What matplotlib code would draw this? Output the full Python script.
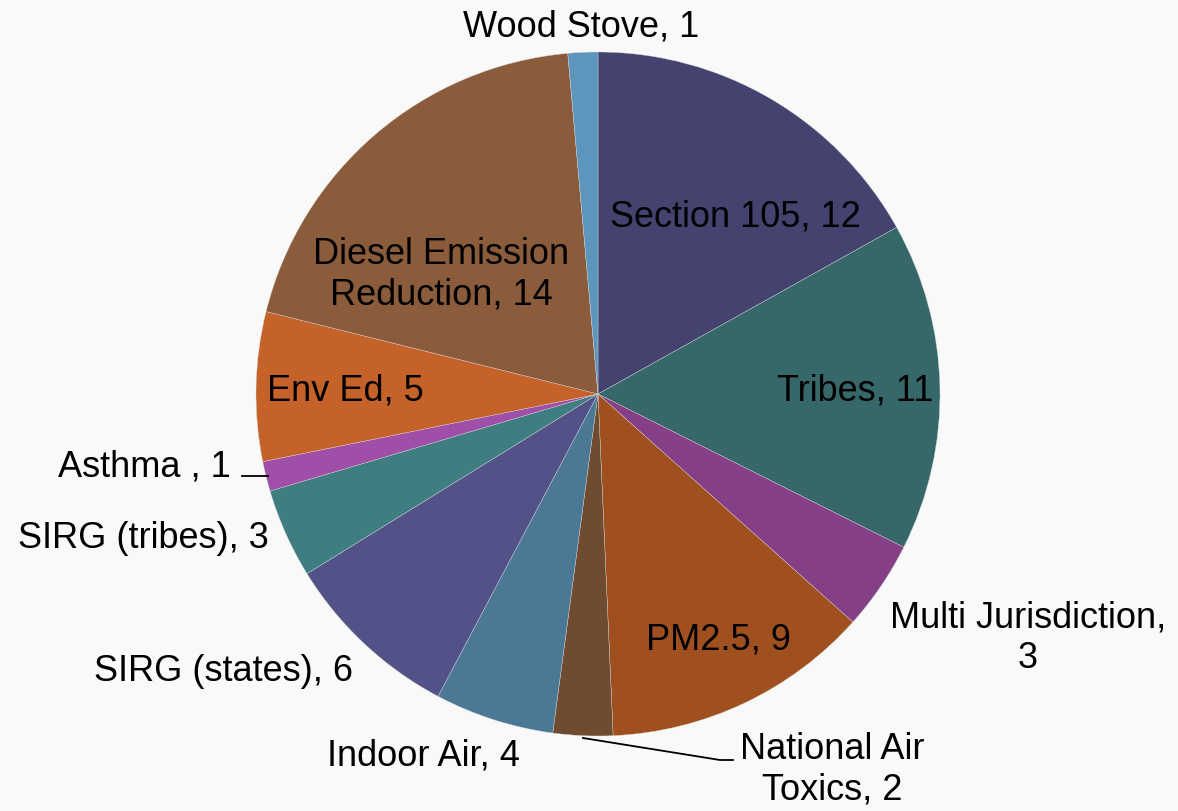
import matplotlib
matplotlib.use("Agg")
import matplotlib.pyplot as plt

categories = ["Section 105", "Tribes", "Multi Jurisdiction", "PM2.5", "National Air Toxics",
              "Indoor Air", "SIRG (states)", "SIRG (tribes)", "Asthma ", "Env Ed",
              "Diesel Emission Reduction", "Wood Stove"]
values = [12, 11, 3, 9, 2, 4, 6, 3, 1, 5, 14, 1]
label_texts = ["Section 105, 12", "Tribes, 11", "Multi Jurisdiction,\n3", "PM2.5, 9",
               "National Air\nToxics, 2", "Indoor Air, 4", "SIRG (states), 6",
               "SIRG (tribes), 3", "Asthma , 1", "Env Ed, 5",
               "Diesel Emission\nReduction, 14", "Wood Stove, 1"]
colors = ["#44426e", "#36686a", "#843f87", "#a0501f", "#6f4b30", "#4a7895",
          "#535288", "#3e7e80", "#a04fa8", "#c5622a", "#8a5c3b", "#5d95bd"]

W, H = 1178, 812
fig = plt.figure(figsize=(W / 100, H / 100), dpi=100, facecolor="#f9f9f9")
ax = fig.add_axes([0, 0, 1, 1])
ax.set_facecolor("#f9f9f9")

cx, cy, r = 598, H - 395, 342
ax.pie(values, colors=colors, startangle=90, counterclock=False, radius=r,
       center=(cx, cy), wedgeprops=dict(edgecolor="#dcdcdc", linewidth=0.25))
ax.set_xlim(0, W)
ax.set_ylim(0, H)
ax.set_aspect("equal")
ax.axis("off")

# label positions in pixel coords (x, y from top)
pos = [(735, 217), (855, 391), (1028, 638), (718, 640), (832, 770), (423, 756),
       (224, 672), (143, 539), (144, 467), (345, 391), (441, 275), (581, 27)]
for (px, py), t in zip(pos, label_texts):
    ax.text(px, H - py, t, ha="center", va="center", fontsize=26,
            family="Liberation Sans", color="black", linespacing=1.22)

# leader lines
ax.plot([242, 263, 268], [H - 477, H - 477, H - 477], color="black", lw=1.3)
ax.plot([583, 720, 733], [H - 739, H - 761, H - 761], color="black", lw=1.3)

fig.savefig("out.png", dpi=100, facecolor=fig.get_facecolor())
